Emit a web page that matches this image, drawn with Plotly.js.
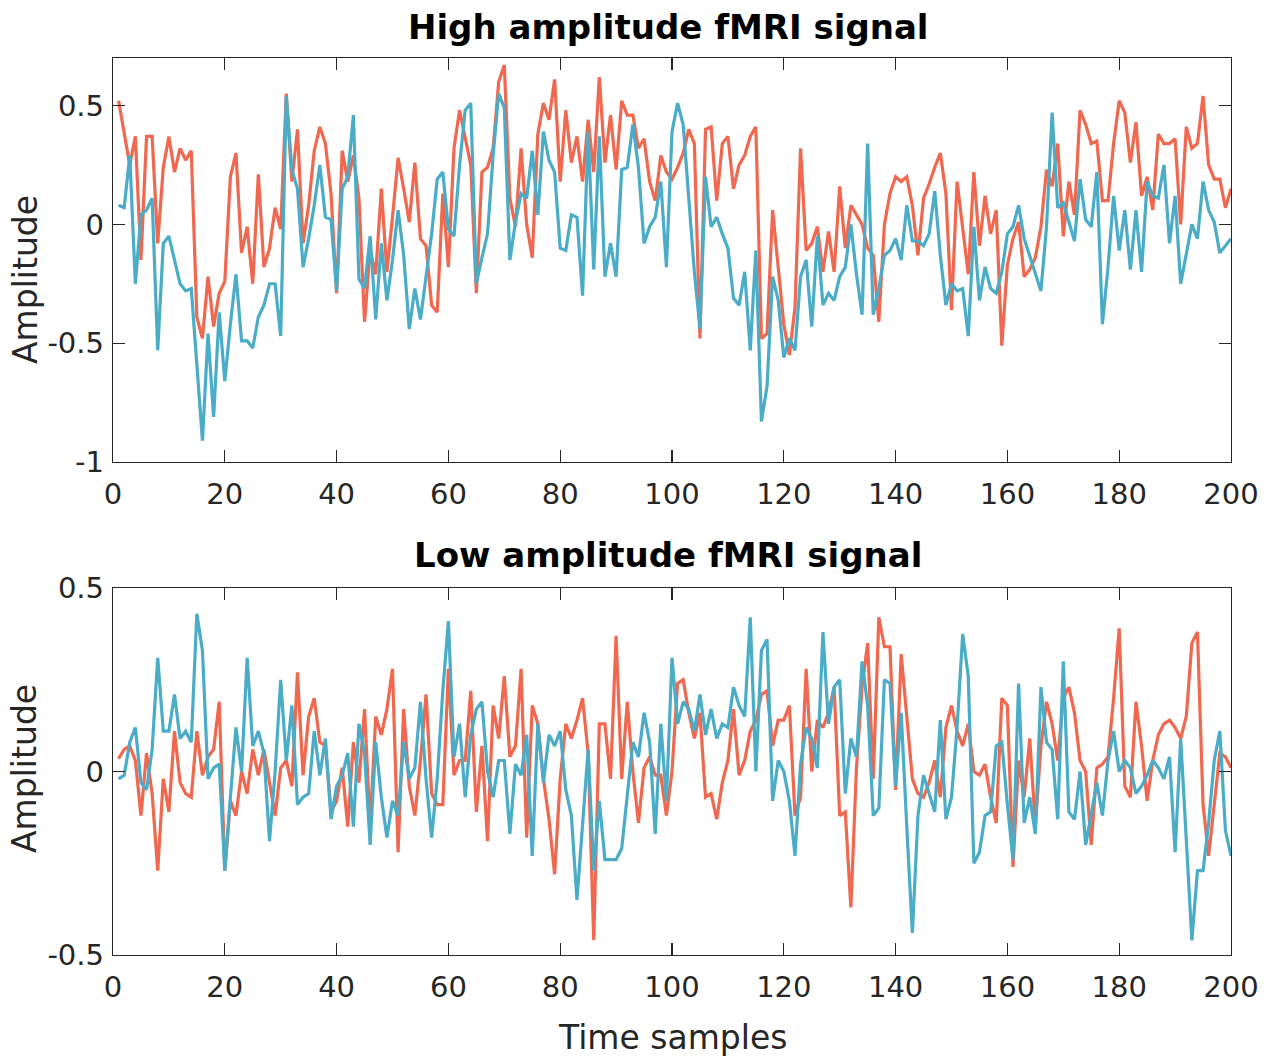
<!DOCTYPE html>
<html>
<head>
<meta charset="utf-8">
<script src="https://cdn.plot.ly/plotly-3.0.1.min.js"></script>
<style>html,body{margin:0;padding:0;background:#fff;}#chart{width:1279px;height:1057px;}</style>
</head>
<body>
<div id="chart"></div>
<script>
// Time samples 1..200
const samples = Array.from({length: 200}, (_, i) => i + 1);

// High amplitude fMRI signal
const highRed = [
  0.52, 0.39, 0.25, 0.37, -0.15, 0.37, 0.37, -0.08, 0.24, 0.37,
  0.22, 0.32, 0.27, 0.31, -0.39, -0.48, -0.22, -0.43, -0.29, -0.24,
  0.20, 0.30, -0.12, -0.01, -0.25, 0.21, -0.18, -0.10, 0.07, -0.02,
  0.55, 0.18, 0.40, -0.08, 0.08, 0.31, 0.41, 0.34, 0.13, -0.29,
  0.31, 0.18, 0.29, 0.11, -0.41, -0.11, -0.21, 0.15, -0.20, 0.03,
  0.28, 0.15, 0.01, 0.26, -0.06, -0.09, -0.34, -0.37, 0.13, -0.18,
  0.32, 0.48, 0.36, 0.25, -0.29, 0.22, 0.24, 0.32, 0.60, 0.67,
  0.11, -0.01, 0.32, 0.00, -0.14, 0.38, 0.51, 0.44, 0.61, 0.18,
  0.48, 0.26, 0.37, 0.18, 0.44, 0.22, 0.62, 0.26, 0.46, 0.23,
  0.52, 0.46, 0.46, 0.32, 0.36, 0.18, 0.10, 0.29, 0.22, 0.19,
  0.24, 0.30, 0.40, 0.34, -0.48, 0.40, 0.41, 0.10, 0.34, 0.37,
  0.15, 0.25, 0.29, 0.37, 0.41, -0.48, -0.46, 0.06, -0.18, -0.42,
  -0.55, -0.35, 0.32, -0.11, -0.08, -0.01, -0.20, -0.03, -0.20, 0.16,
  -0.10, 0.08, 0.04, 0.00, -0.10, -0.13, -0.41, 0.00, 0.13, 0.20,
  0.18, 0.20, 0.08, -0.13, 0.11, 0.17, 0.24, 0.30, 0.13, -0.36,
  0.18, -0.01, -0.21, 0.22, -0.09, 0.12, -0.04, 0.06, -0.51, -0.17,
  -0.06, 0.01, -0.22, -0.19, -0.14, -0.01, 0.23, 0.16, 0.34, -0.05,
  0.18, 0.04, 0.48, 0.42, 0.34, 0.35, 0.10, 0.10, 0.34, 0.52,
  0.47, 0.26, 0.43, 0.12, 0.20, 0.06, 0.38, 0.34, 0.34, 0.36,
  0.00, 0.41, 0.32, 0.34, 0.54, 0.25, 0.19, 0.19, 0.07, 0.15
];
const highBlue = [
  0.08, 0.07, 0.29, -0.25, 0.04, 0.06, 0.11, -0.53, -0.08, -0.05,
  -0.15, -0.25, -0.28, -0.27, -0.59, -0.91, -0.46, -0.81, -0.37, -0.66,
  -0.42, -0.21, -0.49, -0.49, -0.52, -0.39, -0.34, -0.25, -0.25, -0.47,
  0.54, 0.23, 0.15, -0.18, -0.06, 0.08, 0.25, 0.03, 0.02, -0.28,
  0.15, 0.20, 0.46, -0.23, -0.27, -0.05, -0.40, -0.08, -0.32, -0.15,
  0.06, -0.13, -0.44, -0.27, -0.40, -0.21, -0.04, 0.19, 0.22, -0.02,
  -0.05, 0.25, 0.48, 0.51, -0.25, -0.14, -0.04, 0.29, 0.55, 0.49,
  -0.15, 0.01, 0.13, 0.11, 0.31, 0.04, 0.39, 0.27, 0.22, -0.10,
  -0.11, 0.04, 0.03, -0.30, 0.39, -0.19, 0.37, -0.22, -0.08, -0.22,
  0.23, 0.24, 0.42, 0.24, -0.08, -0.01, 0.03, 0.18, -0.18, 0.39,
  0.51, 0.42, 0.13, -0.20, -0.44, 0.20, -0.01, 0.03, -0.04, -0.10,
  -0.31, -0.34, -0.20, -0.53, -0.11, -0.83, -0.68, -0.22, -0.32, -0.56,
  -0.48, -0.53, -0.22, -0.15, -0.43, -0.05, -0.34, -0.29, -0.32, -0.22,
  -0.18, 0.00, -0.21, -0.38, 0.34, -0.38, -0.27, -0.13, -0.11, -0.06,
  -0.15, 0.08, -0.07, -0.07, -0.09, -0.04, 0.14, -0.13, -0.34, -0.25,
  -0.28, -0.27, -0.47, -0.01, -0.32, -0.18, -0.27, -0.29, -0.20, -0.04,
  -0.01, 0.08, -0.06, -0.13, -0.20, -0.28, -0.01, 0.47, 0.07, 0.09,
  0.01, -0.07, 0.19, 0.02, -0.01, 0.22, -0.42, -0.18, 0.12, -0.11,
  0.06, -0.19, 0.06, -0.20, 0.18, 0.12, 0.11, 0.25, -0.08, 0.12,
  -0.25, -0.13, 0.00, -0.06, 0.18, 0.06, 0.01, -0.12, -0.09, -0.06
];

// Low amplitude fMRI signal
const lowRed = [
  0.035, 0.06, 0.07, 0.03, -0.12, 0.05, -0.06, -0.27, -0.02, -0.11,
  0.11, -0.03, -0.06, -0.07, 0.11, -0.01, 0.04, 0.06, 0.19, -0.27,
  -0.08, -0.12, 0.00, -0.06, 0.06, -0.01, 0.06, -0.03, -0.12, 0.01,
  0.03, -0.04, 0.27, -0.01, 0.15, 0.20, 0.08, 0.07, -0.11, -0.08,
  0.01, -0.15, 0.08, -0.03, 0.17, -0.15, 0.15, 0.10, 0.17, 0.28,
  -0.22, 0.17, -0.04, -0.12, 0.03, 0.21, -0.06, -0.09, -0.09, 0.28,
  -0.01, 0.03, 0.03, 0.22, -0.11, 0.07, -0.19, 0.18, 0.09, 0.26,
  0.04, 0.07, 0.28, -0.18, 0.18, 0.13, -0.02, -0.13, -0.28, -0.02,
  0.13, 0.09, 0.14, 0.20, 0.05, -0.46, 0.13, 0.13, -0.02, 0.37,
  -0.02, 0.19, 0.00, -0.14, 0.01, 0.04, -0.01, -0.01, -0.12, 0.00,
  0.24, 0.25, 0.16, 0.09, 0.16, -0.07, -0.06, -0.13, -0.03, 0.03,
  0.17, -0.01, 0.03, 0.11, 0.14, 0.21, 0.22, 0.07, 0.14, 0.14,
  0.18, -0.12, -0.07, 0.28, 0.00, 0.14, 0.12, 0.16, 0.23, -0.12,
  -0.11, -0.37, 0.01, 0.23, 0.35, -0.02, 0.42, 0.34, 0.34, -0.05,
  0.32, 0.15, -0.02, -0.06, -0.07, -0.03, 0.03, -0.07, 0.12, 0.18,
  0.11, 0.07, 0.13, 0.00, -0.01, 0.02, -0.07, -0.14, 0.20, 0.18,
  -0.26, 0.03, -0.07, 0.09, -0.15, 0.07, 0.19, 0.13, 0.03, 0.20,
  0.23, 0.16, 0.03, 0.00, -0.20, 0.01, 0.02, 0.04, 0.20, 0.39,
  -0.04, -0.07, 0.19, 0.07, -0.08, 0.03, 0.10, 0.13, 0.14, 0.12,
  0.09, 0.15, 0.35, 0.38, -0.09, -0.23, -0.09, 0.05, 0.04, 0.01
];
const lowBlue = [
  -0.02, -0.01, 0.08, 0.12, -0.03, -0.05, 0.06, 0.31, 0.11, 0.11,
  0.21, 0.09, 0.11, 0.08, 0.43, 0.33, -0.02, 0.01, 0.02, -0.27,
  -0.07, 0.12, 0.00, 0.31, 0.07, 0.11, 0.05, -0.19, 0.00, 0.25,
  0.03, 0.18, -0.09, -0.07, -0.06, 0.11, -0.01, 0.09, -0.13, -0.04,
  -0.01, 0.05, -0.15, 0.13, 0.05, -0.20, 0.08, -0.07, -0.18, -0.08,
  -0.12, 0.08, -0.02, 0.01, 0.19, -0.02, -0.18, -0.02, 0.22, 0.41,
  0.04, 0.13, -0.07, 0.10, 0.17, 0.19, 0.00, -0.07, 0.03, 0.03,
  -0.17, 0.02, -0.01, 0.10, -0.23, 0.13, -0.03, 0.10, 0.07, 0.11,
  -0.05, -0.12, -0.35, -0.15, 0.06, -0.27, -0.08, -0.24, -0.24, -0.24,
  -0.21, -0.06, 0.08, 0.04, 0.16, 0.08, -0.17, 0.13, -0.08, 0.31,
  0.13, 0.19, 0.17, 0.11, 0.21, 0.10, 0.17, 0.09, 0.13, 0.12,
  0.23, 0.18, 0.15, 0.42, 0.00, 0.33, 0.36, -0.08, 0.03, 0.00,
  -0.08, -0.23, 0.02, 0.12, 0.09, 0.01, 0.38, 0.13, 0.23, 0.25,
  -0.06, 0.09, 0.04, 0.30, 0.18, -0.12, -0.10, 0.25, 0.24, -0.04,
  0.16, -0.15, -0.44, -0.12, -0.01, -0.06, -0.11, 0.14, -0.13, -0.07,
  0.12, 0.375, 0.26, -0.25, -0.22, -0.12, -0.11, 0.07, 0.08, -0.09,
  -0.24, 0.24, -0.14, -0.07, -0.17, 0.23, 0.08, 0.06, -0.13, 0.30,
  -0.11, -0.13, 0.00, -0.20, -0.12, -0.03, -0.12, 0.03, 0.11, 0.00,
  0.03, 0.01, -0.06, -0.04, -0.01, 0.03, 0.01, -0.02, 0.04, -0.22,
  0.09, -0.17, -0.46, -0.27, -0.27, -0.14, 0.03, 0.11, -0.16, -0.23
];

const topTitle = "High amplitude fMRI signal";
const bottomTitle = "Low amplitude fMRI signal";
const yLabel = "Amplitude";
const xLabel = "Time samples";
const topYTicks = [-1, -0.5, 0, 0.5];
const topYTickText = ["-1", "-0.5", "0", "0.5"];
const bottomYTicks = [-0.5, 0, 0.5];
const bottomYTickText = ["-0.5", "0", "0.5"];
const xTicks = [0, 20, 40, 60, 80, 100, 120, 140, 160, 180, 200];

const RED = "#F0684F";
const BLUE = "#4BACC8";
const AXC = "#262626";
const FONT = "DejaVu Sans, Verdana, sans-serif";

const traces = [
  {x: samples, y: highRed, type: "scatter", mode: "lines", line: {color: RED, width: 3.2}, xaxis: "x", yaxis: "y", hoverinfo: "skip"},
  {x: samples, y: highBlue, type: "scatter", mode: "lines", line: {color: BLUE, width: 3.2}, xaxis: "x", yaxis: "y", hoverinfo: "skip"},
  {x: samples, y: lowRed, type: "scatter", mode: "lines", line: {color: RED, width: 3.2}, xaxis: "x2", yaxis: "y2", hoverinfo: "skip"},
  {x: samples, y: lowBlue, type: "scatter", mode: "lines", line: {color: BLUE, width: 3.2}, xaxis: "x2", yaxis: "y2", hoverinfo: "skip"}
];

const axBase = {
  showgrid: false, zeroline: false, showline: true, linecolor: AXC, linewidth: 1.2,
  mirror: "ticks", ticks: "inside", ticklen: 12, tickwidth: 1.2, tickcolor: AXC,
  tickfont: {family: FONT, size: 29, color: AXC}
};

const layout = {
  width: 1279, height: 1057,
  margin: {l: 113, r: 48, t: 58, b: 102},
  paper_bgcolor: "#ffffff", plot_bgcolor: "#ffffff",
  showlegend: false,
  font: {family: FONT, color: AXC},
  xaxis: Object.assign({}, axBase, {domain: [0, 1], range: [0, 200], tickvals: xTicks, anchor: "y", ticklabelstandoff: 6}),
  yaxis: Object.assign({}, axBase, {domain: [0.5496, 1], range: [-1, 0.7], tickvals: topYTicks, ticktext: topYTickText, anchor: "x", ticklabelstandoff: 2}),
  xaxis2: Object.assign({}, axBase, {domain: [0, 1], range: [0, 200], tickvals: xTicks, anchor: "y2", ticklabelstandoff: 6}),
  yaxis2: Object.assign({}, axBase, {domain: [0, 0.4091], range: [-0.5, 0.5], tickvals: bottomYTicks, ticktext: bottomYTickText, anchor: "x2", ticklabelstandoff: 2}),
  annotations: [
    {text: "<b>" + topTitle + "</b>", xref: "paper", yref: "paper", x: 0.4965, y: 1.0346, xanchor: "center", yanchor: "middle", showarrow: false, font: {family: FONT, size: 34, color: "#000"}},
    {text: "<b>" + bottomTitle + "</b>", xref: "paper", yref: "paper", x: 0.4965, y: 0.4459, xanchor: "center", yanchor: "middle", showarrow: false, font: {family: FONT, size: 34, color: "#000"}},
    {text: yLabel, xref: "paper", yref: "paper", x: -0.0787, y: 0.7525, xanchor: "center", yanchor: "middle", textangle: -90, showarrow: false, font: {family: FONT, size: 33, color: AXC}},
    {text: yLabel, xref: "paper", yref: "paper", x: -0.0787, y: 0.2074, xanchor: "center", yanchor: "middle", textangle: -90, showarrow: false, font: {family: FONT, size: 33, color: AXC}},
    {text: xLabel, xref: "paper", yref: "paper", x: 0.5, y: -0.0925, xanchor: "center", yanchor: "middle", showarrow: false, font: {family: FONT, size: 33, color: AXC}}
  ]
};

Plotly.newPlot("chart", traces, layout, {staticPlot: true, displayModeBar: false});
</script>
</body>
</html>
